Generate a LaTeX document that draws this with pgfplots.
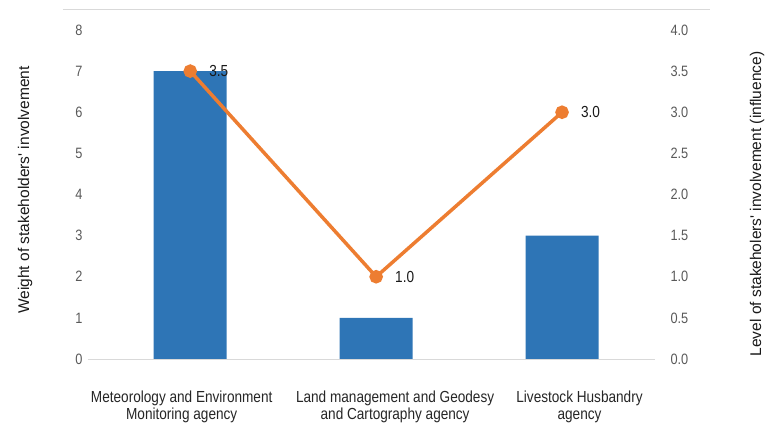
\documentclass[border=0pt]{standalone}
\usepackage{pgfplots}
\pgfplotsset{compat=1.18}
\usepackage{fontspec}
\setmainfont{Liberation Sans}[FakeStretch=0.85]
\newfontfamily\titlefont{Liberation Sans}
\definecolor{barblue}{HTML}{2E75B6}
\definecolor{lineorange}{HTML}{ED7D31}
\definecolor{ticktext}{HTML}{595959}
\definecolor{axisgray}{HTML}{D9D9D9}
\begin{document}
\begin{tikzpicture}
\useasboundingbox (-88pt,-68pt) rectangle (677pt,359pt);
\draw[axisgray, line width=0.8pt] (-25pt,350pt) -- (622pt,350pt);
\begin{axis}[
  scale only axis, width=567pt, height=329pt,
  xmin=-0.55, xmax=2.5, ymin=0, ymax=8,
  ytick={0,1,...,8},
  xtick={-0.046,1.102,2.094},
  xticklabels={{Meteorology and Environment\\Monitoring agency},{Land management and Geodesy\\and Cartography agency},{Livestock Husbandry\\agency}},
  xticklabel style={align=center, font=\fontsize{16}{17}\selectfont, text=black!85, yshift=-28pt},
  yticklabel style={font=\fontsize{15}{17}\selectfont, text=ticktext, xshift=-2pt},
  /pgf/number format/assume math mode=true,
  axis x line*=bottom, axis y line*=left,
  x axis line style={axisgray, line width=0.8pt, -},
  y axis line style={draw=none},
  major tick length=0pt,
  every axis y label/.style={at={(-63pt,169pt)}, rotate=90, anchor=center, font=\titlefont\fontsize{15.5}{18}\selectfont, text=black!90},
  ylabel={Weight of stakeholders' involvement},
]
\addplot[ybar, bar width=73pt, fill=barblue, draw=none] coordinates {(0,7) (1,1) (2,3)};
\end{axis}
\begin{axis}[
  scale only axis, width=567pt, height=329pt,
  xmin=-0.55, xmax=2.5, ymin=0, ymax=4,
  ytick={0,0.5,...,4},
  yticklabel style={font=\fontsize{15}{17}\selectfont, text=ticktext, xshift=12pt, /pgf/number format/.cd, fixed, fixed zerofill, precision=1},
  /pgf/number format/assume math mode=true,
  axis y line*=right, axis x line=none,
  y axis line style={draw=none},
  major tick length=0pt,
  xtick=\empty,
  every axis y label/.style={at={(669pt,155pt)}, rotate=90, anchor=center, font=\titlefont\fontsize{15.5}{18}\selectfont, text=black!90},
  ylabel={Level of stakeholers' involvement (influence)},
]
\addplot[lineorange, line width=3.5pt, mark=*, mark size=5pt, mark options={fill=lineorange, draw=lineorange},
  nodes near coords, point meta=explicit symbolic,
  every node near coord/.append style={anchor=west, xshift=14pt, font=\fontsize{16}{18}\selectfont, text=black!90}]
  coordinates {(0,3.5) [3.5] (1,1.0) [1.0] (2,3.0) [3.0]};
\end{axis}
\end{tikzpicture}
\end{document}
